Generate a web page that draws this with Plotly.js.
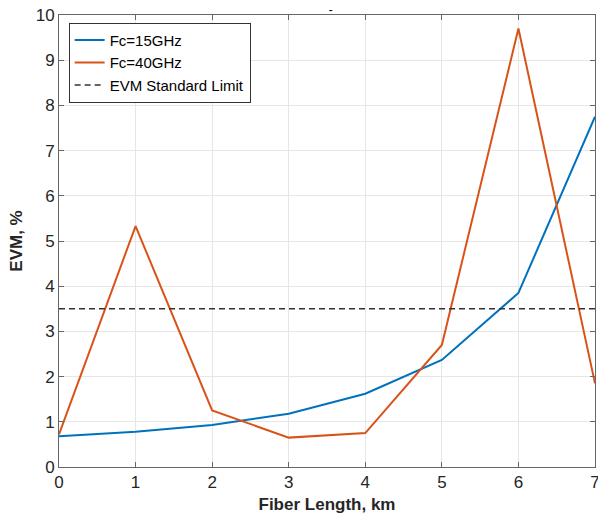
<!DOCTYPE html>
<html><head><meta charset="utf-8">
<script src="https://cdn.plot.ly/plotly-3.0.1.min.js"></script>
<style>html,body{margin:0;padding:0;background:#fff}#plot{width:598px;height:515px}</style>
</head><body><div id="plot"></div>
<script>
const fiberLength = [0, 1, 2, 3, 4, 5, 6, 7];
const evm15GHz = [0.68, 0.78, 0.93, 1.18, 1.62, 2.37, 3.85, 7.75];
const evm40GHz = [0.72, 5.33, 1.25, 0.65, 0.75, 2.7, 9.7, 1.85];
const evmLimitX = [0, 7];
const evmLimit = [3.5, 3.5];
const seriesNames = ['Fc=15GHz', 'Fc=40GHz', 'EVM Standard Limit'];

const traces = [
  {x: fiberLength, y: evm15GHz, name: seriesNames[0], mode: 'lines', line: {color: '#0072BD', width: 2}},
  {x: fiberLength, y: evm40GHz, name: seriesNames[1], mode: 'lines', line: {color: '#D95319', width: 2}},
  {x: evmLimitX, y: evmLimit, name: seriesNames[2], mode: 'lines', line: {color: '#333', width: 1.5, dash: '6px,4px'}}
];
const axCommon = {
  showgrid: true, gridcolor: '#e6e6e6', gridwidth: 1,
  showline: true, linecolor: '#666', linewidth: 1, mirror: 'ticks',
  ticks: 'inside', ticklen: 5, tickcolor: '#666',
  zeroline: false, ticklabeloverflow: 'allow',
  tickfont: {family: 'Liberation Sans, Arial, sans-serif', size: 17, color: '#262626'}
};
const layout = {
  width: 598, height: 515,
  margin: {l: 59, r: 3, t: 15, b: 48},
  paper_bgcolor: '#fff', plot_bgcolor: '#fff',
  showlegend: true,
  title: {text: '-', font: {family: 'Liberation Sans, Arial, sans-serif', size: 12, color: '#000'}, x: 0.553, xanchor: 'center', y: 0.99, yanchor: 'top'},
  legend: {x: 0.018, y: 0.983, xanchor: 'left', yanchor: 'top', bgcolor: '#fff', bordercolor: '#333', borderwidth: 1,
           font: {family: 'Liberation Sans, Arial, sans-serif', size: 15, color: '#000'}, tracegroupgap: 0, itemwidth: 30},
  xaxis: Object.assign({}, axCommon, {range: [0, 7], dtick: 1,
    title: {text: '<b>Fiber Length, km</b>', standoff: 6, font: {family: 'Liberation Sans, Arial, sans-serif', size: 17, color: '#262626'}}}),
  yaxis: Object.assign({}, axCommon, {range: [0, 10], dtick: 1,
    title: {text: '<b>EVM, %</b>', standoff: 8, font: {family: 'Liberation Sans, Arial, sans-serif', size: 17, color: '#262626'}}})
};
Plotly.newPlot('plot', traces, layout, {displayModeBar: false, staticPlot: true});
</script></body></html>
